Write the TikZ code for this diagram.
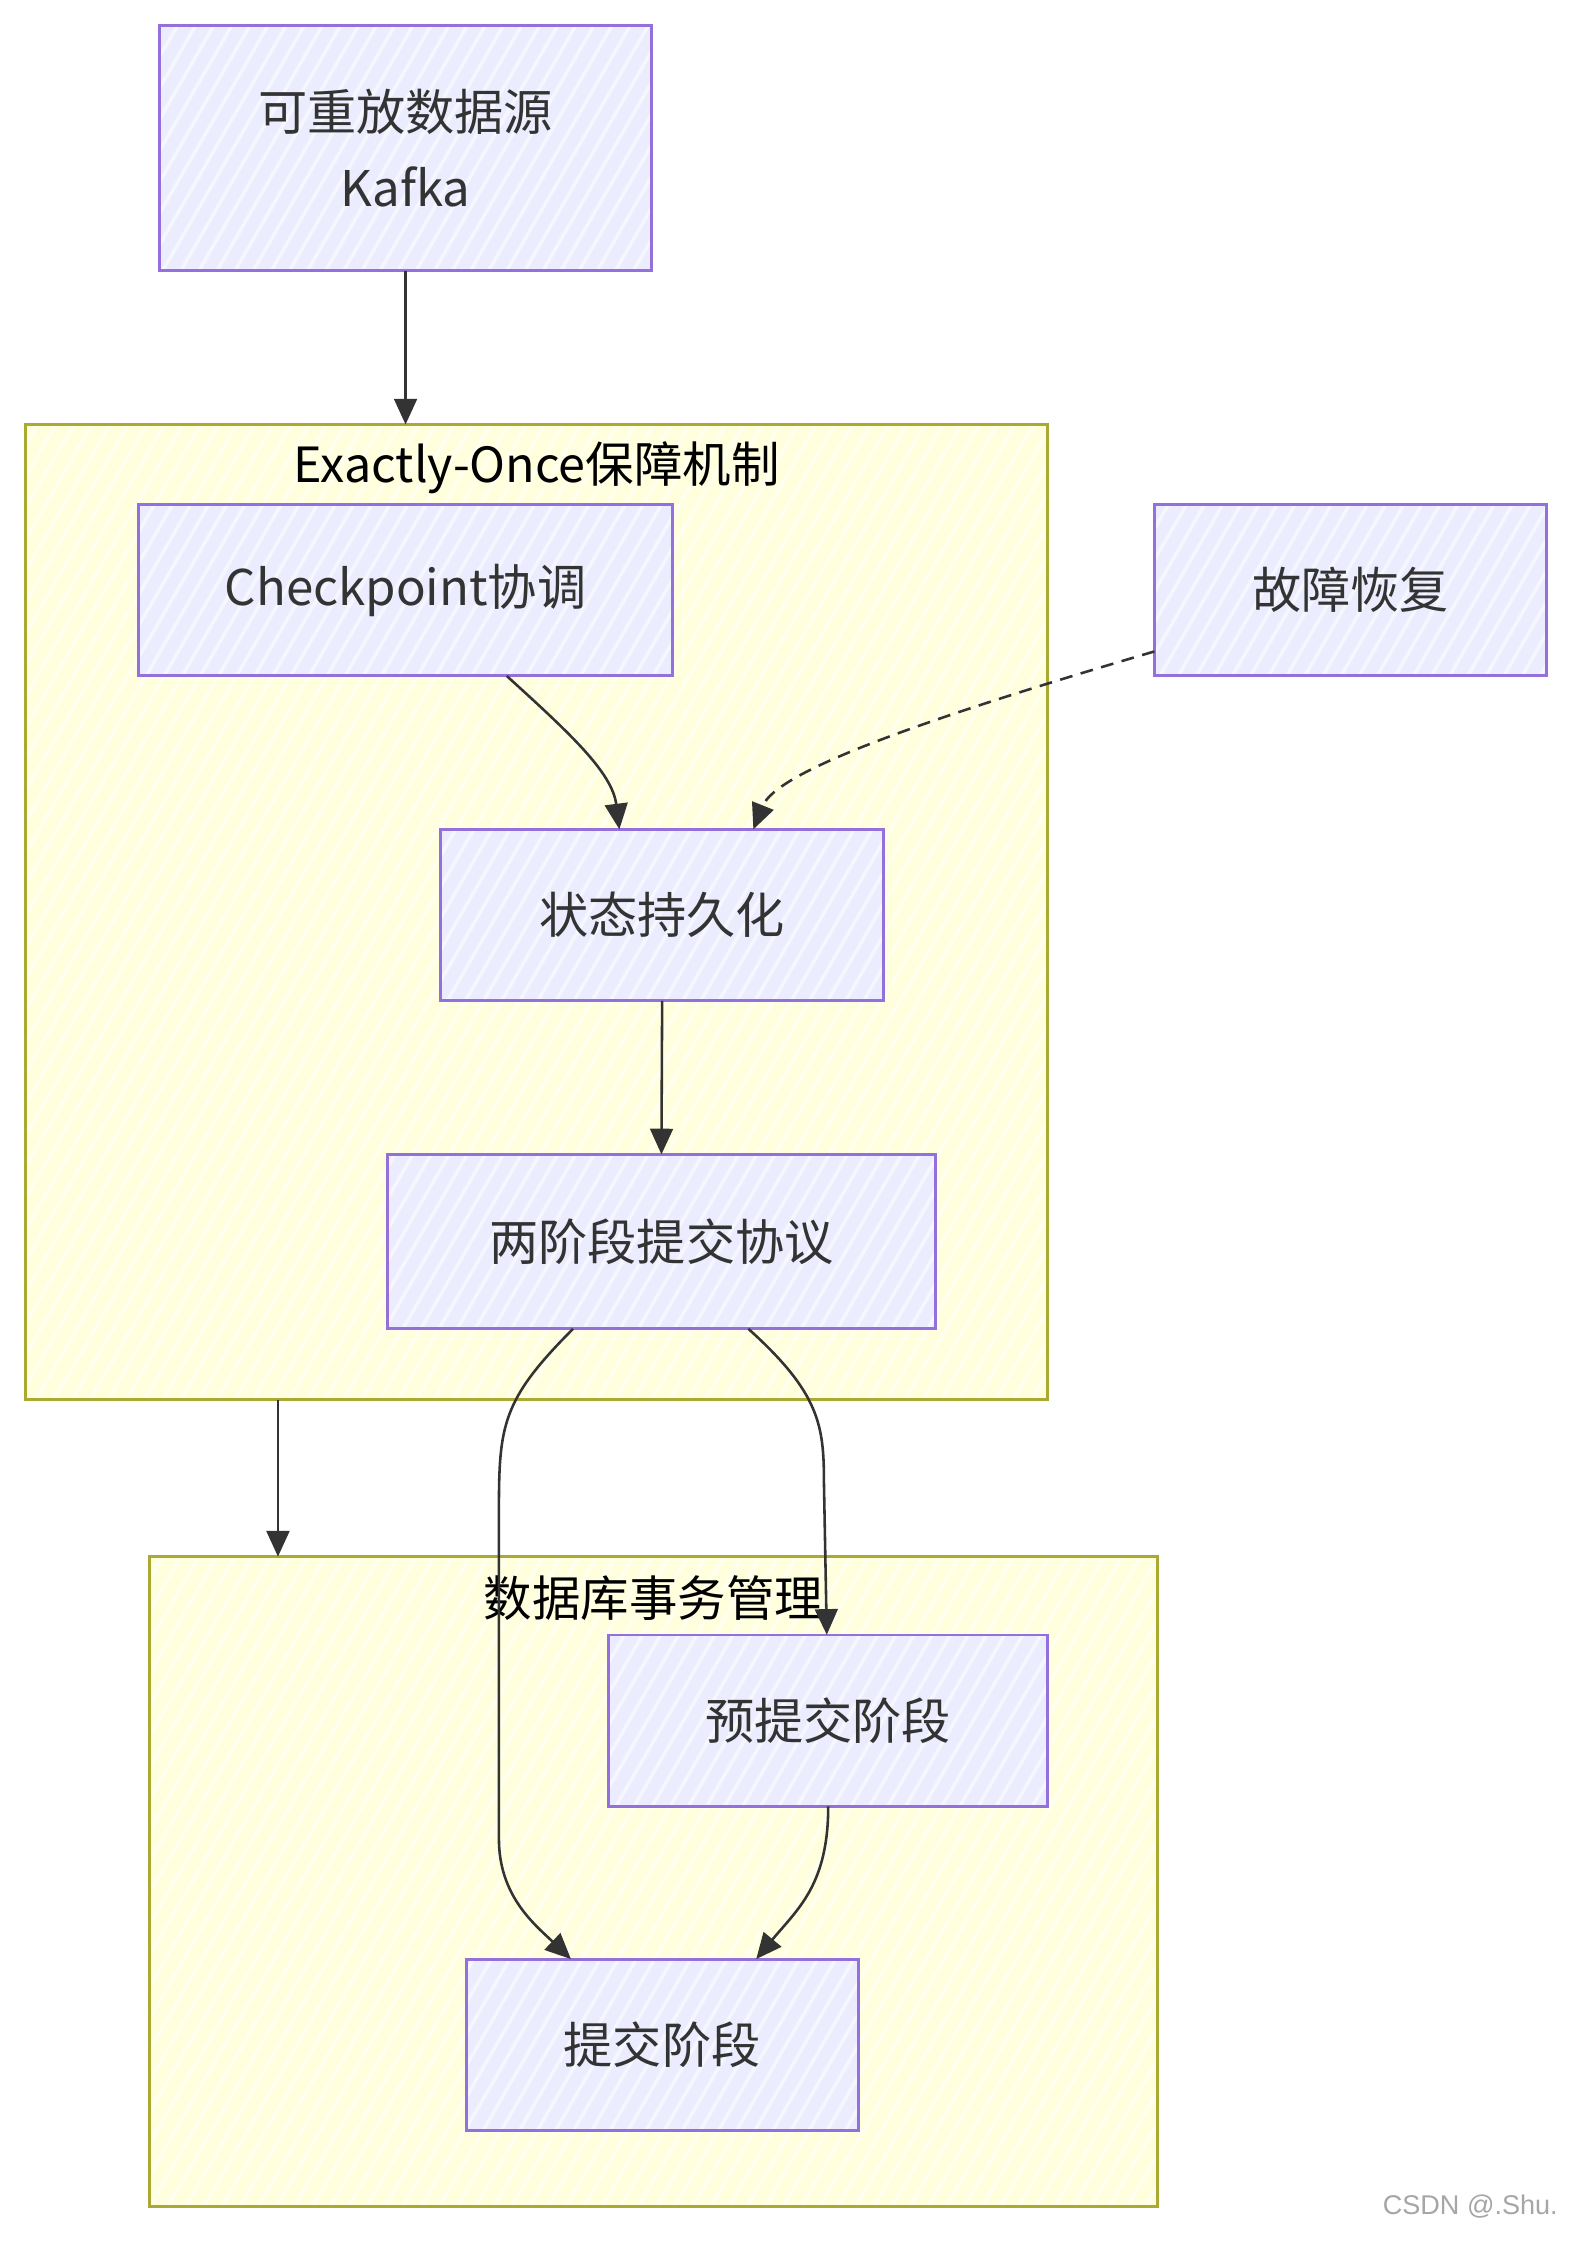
\documentclass[tikz,border=0pt]{standalone}
\usepackage{fontspec}
\setmainfont{Noto Sans CJK SC}
\newfontfamily\markfont{Liberation Sans}
\usetikzlibrary{calc, arrows.meta, patterns.meta}
\definecolor{boxfill}{HTML}{ECECFF}
\definecolor{boxline}{HTML}{9370DB}
\definecolor{clusterfill}{HTML}{FFFFDE}
\definecolor{clusterline}{HTML}{AAAA33}
\definecolor{ink}{HTML}{333333}
\tikzset{
	hatch/.style = {postaction={draw=none, pattern={Lines[angle=60, distance=11pt, line width=2.5pt]}, pattern color=white, opacity=0.55},
		postaction={draw=#1, line width=2pt}},
	box/.style = {fill=boxfill, hatch=boxline, inner sep=0pt,
		minimum width=#1, minimum height=120pt, text=ink, align=center,
		font=\fontsize{34.5}{53}\selectfont},
	cluster/.style = {fill=clusterfill, hatch=clusterline, inner sep=0pt},
	title/.style = {text=black, font=\fontsize{34}{40}\selectfont, inner sep=0pt},
	flow/.style = {draw=ink, line width=1.8pt, -{Triangle[length=18pt, width=16pt]}},
	gap/.style = {dash pattern=on 9pt off 6pt},
}

\begin{document}
\begin{tikzpicture}[x=1pt, y=-1pt]
			\useasboundingbox (0,0) rectangle (1100,1575.6);
			% groups
			\node[cluster, minimum width=717pt, minimum height=684pt] (eo) at (376.5,640) {};
			\node[title] (eotitle) at (376.5,328) {Exactly-Once保障机制};
			\node[cluster, minimum width=707pt, minimum height=456pt] (db) at (458.5,1320) {};
			\node[title] (dbtitle) at (458.5,1121) {数据库事务管理};
			% steps
			\node[box=345pt, minimum height=172pt] (src) at (284.5,104) {可重放数据源\\Kafka};
			\node[box=375pt] (ckpt)   at (284.5,414) {Checkpoint协调};
			\node[box=275pt] (fault)  at (947.5,414) {故障恢复};
			\node[box=311pt] (state)  at (464.5,642) {状态持久化};
			\node[box=384pt, minimum height=122pt] (twopc) at (464,871) {两阶段提交协议};
			\node[box=308pt] (pre)    at (581,1207)  {预提交阶段};
			\node[box=275pt] (commit) at (464.5,1434.5) {提交阶段};
			% links
			\draw[flow] (src.south) -- (src.south |- eo.north);
			\draw[flow] ($(ckpt.south)+(71,0)$) .. controls ($(ckpt.south)+(115,40)$) and ($(state.north)+(-35,-40)$) .. ($(state.north)+(-30,0)$);
			\draw[flow, gap] ($(fault.west)+(0,43)$) .. controls ($(fault.west)+(-170,93)$) and ($(state.north)+(80,-40)$) .. ($(state.north)+(64,0)$);
			\draw[flow] (state.south) -- (twopc.north);
			\draw[flow] (195,982) -- (195,1092);
			\draw[flow] ($(twopc.south)+(61,0)$) .. controls ($(twopc.south)+(111,45)$) and (578,1000) .. (578,1040) -- ($(pre.north)+(-1,0)$);
			\draw[flow] ($(twopc.south)+(-62,0)$) .. controls ($(twopc.south)+(-112,50)$) and (350,1000) .. (350,1060) -- (350,1290) .. controls (350,1330) and (375,1350) .. ($(commit.north)+(-64,0)$);
			\draw[flow] (pre.south) .. controls ($(pre.south)+(0,55)$) and ($(commit.north)+(95,-35)$) .. ($(commit.north)+(66,0)$);
			% watermark
			\node[text=black!35, font=\markfont\fontsize{19}{22}\selectfont, anchor=east, inner sep=0pt] (mark) at (1093,1548) {CSDN @.Shu.};
		\end{tikzpicture}
\end{document}
